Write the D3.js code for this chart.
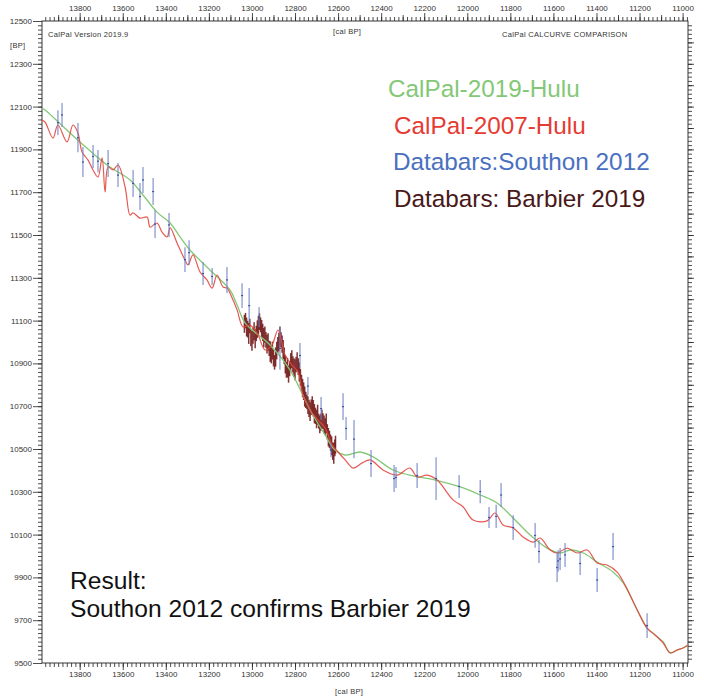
<!DOCTYPE html>
<html><head><meta charset="utf-8">
<script src="https://cdn.jsdelivr.net/npm/d3@7"></script>
<style>body{margin:0;background:#fff}svg{display:block}text{font-family:"Liberation Sans",Arial,sans-serif}</style>
</head><body><svg id="c" width="704" height="699"></svg>
<script>
// ---- data ----
const xTickLabels = [13800,13600,13400,13200,13000,12800,12600,12400,12200,12000,11800,11600,11400,11200,11000];
const yTickLabels = [12500,12300,12100,11900,11700,11500,11300,11100,10900,10700,10500,10300,10100,9900,9700,9500];

const hulu2019Cal = [13975,13961,13799,13673,13566,13506,13441,13380,13334,13288,13185,13102,13069,13032,12916,12823,12730,12660,12614,12567,12498,12437,12345,12252,12173,12094,12019,11940,11862,11787,11708,11629,11569,11522,11462,11397,11323,11276,11211,11165,11128,11090,11058,11025,10998,10974];
const hulu2019BP  = [12093,12084,11935,11827,11757,11687,11607,11556,11491,11430,11327,11243,11173,11089,10986,10869,10682,10565,10495,10472,10486,10463,10402,10374,10360,10341,10318,10285,10248,10178,10098,10037,10014,10028,10014,9972,9925,9874,9748,9663,9631,9598,9547,9561,9570,9584];

const hulu2007Cal = [13975,13961,13924,13901,13859,13831,13808,13789,13761,13738,13715,13696,13682,13668,13645,13622,13589,13566,13552,13520,13487,13473,13441,13418,13394,13380,13348,13311,13297,13274,13241,13209,13185,13162,13134,13116,13092,13069,13041,13009,12972,12939,12907,12879,12846,12814,12786,12763,12730,12693,12660,12628,12600,12567,12530,12488,12451,12391,12326,12266,12233,12187,12140,12066,12019,11973,11908,11871,11834,11787,11741,11694,11662,11615,11583,11536,11490,11443,11397,11351,11304,11267,11211,11165,11128,11090,11058,11025,10998,10974];
const hulu2007BP  = [12037,12028,11953,12014,11935,12014,11977,11888,11850,11804,11771,11860,11701,11818,11804,11827,11724,11593,11603,11579,11584,11537,11556,11514,11491,11533,11463,11383,11360,11407,11327,11290,11252,11313,11257,11252,11206,11150,11070,11079,11033,10963,10986,11056,10939,10892,10860,10752,10682,10635,10598,10519,10486,10449,10411,10435,10449,10402,10378,10411,10369,10378,10355,10262,10229,10168,10164,10201,10145,10131,10089,10065,10084,10028,10014,10037,10014,10028,9967,9958,9925,9864,9748,9663,9631,9593,9547,9561,9570,9584];

const southonCal = [13901,13882,13808,13785,13738,13715,13668,13622,13552,13520,13506,13459,13450,13385,13311,13292,13227,13185,13116,13046,13013,12967,12870,12777,12740,12679,12633,12577,12563,12526,12447,12340,12331,12233,12145,12038,11940,11899,11866,11843,11787,11685,11667,11583,11578,11569,11546,11476,11397,11323,11165];
const southonBP  = [12025,12061,11955,11841,11867,11845,11834,11780,11741,11680,11757,11703,11551,11547,11385,11418,11320,11306,11290,11217,11170,11117,10970,10937,10794,10689,10495,10698,10596,10546,10432,10362,10367,10376,10362,10325,10301,10180,10185,10285,10133,10096,10021,9946,9977,9986,10005,9965,9888,10044,9675];
const southonErr = [58,56,68,70,54,52,63,56,63,63,61,63,65,56,58,58,54,40,61,58,82,47,100,58,42,54,33,63,54,89,63,63,49,58,100,54,54,49,54,56,58,58,54,68,51,51,56,54,56,63,58];

const barbierCal = [13035,13030,13025,13020,13015,13010,13005,13000,12995,12990,12985,12980,12975,12970,12965,12960,12955,12950,12945,12940,12935,12930,12925,12920,12915,12910,12905,12900,12895,12890,12885,12880,12875,12870,12865,12860,12855,12850,12845,12840,12835,12830,12825,12820,12815,12810,12805,12800,12795,12790,12785,12780,12775,12770,12765,12760,12755,12750,12745,12740,12735,12730,12725,12720,12715,12710,12705,12700,12695,12690,12685,12680,12675,12670,12665,12660,12655,12650,12645,12640,12635,12630,12625,12620,12615,12612];
const barbierBP  = [11085,11100,11070,11060,11040,11075,11020,11005,11030,11050,11015,11040,11060,11075,11095,11080,11060,11045,11020,11035,11010,10990,11000,10970,10955,10940,10960,10925,10905,10930,10960,10985,11000,11025,11010,10990,10965,10935,10895,10870,10880,10850,10875,10905,10920,10895,10880,10870,10895,10910,10885,10860,10835,10810,10785,10770,10745,10730,10720,10705,10690,10675,10695,10705,10690,10665,10655,10640,10660,10630,10615,10625,10640,10630,10615,10605,10620,10580,10555,10545,10530,10515,10490,10480,10505,10520];
const barbierErr = [42,36,44,39,49,34,40,46,38,42,44,36,41,47,39,35,43,40,45,38,37,44,41,36,48,40,42,39,34,45,41,38,43,47,36,40,44,39,42,37,46,40,35,43,41,38,44,49,36,42,39,45,40,37,43,41,47,38,34,42,40,44,36,41,39,45,38,43,47,35,41,40,44,37,42,39,46,36,43,40,38,44,41,49,39,42];

const legendLabels = ["CalPal-2019-Hulu","CalPal-2007-Hulu","Databars:Southon 2012","Databars: Barbier 2019"];
const resultLines = ["Result:","Southon 2012 confirms Barbier 2019"];

// ---- layout ----
const L=42, R=688, T=21, B=663;
const svg = d3.select("#c");
const x = d3.scaleLinear().domain([13975,10975]).range([L,R]);
const y = d3.scaleLinear().domain([9500,12500]).range([B,T]);

const cGreen="#84c877", cRed="#e2483f", cBlue="#6d80c4", cBrown="#6e1212";

function styleAxis(g){ g.select(".domain").remove(); g.selectAll("line").attr("stroke","#222").attr("stroke-width",0.8);
  g.selectAll("text").attr("font-size",8).attr("fill","#333").attr("font-family",'"Liberation Sans",Arial,sans-serif'); }
const minorX = d3.range(10980,13980,20), midX = d3.range(11100,13980,200), minorY = d3.range(9520,12500,20), midY = d3.range(9600,12500,100);

svg.append("g").attr("transform",`translate(0,${T})`).call(d3.axisTop(x).tickValues(minorX).tickSize(4).tickFormat("")).call(styleAxis);
svg.append("g").attr("transform",`translate(0,${T})`).call(d3.axisTop(x).tickValues(midX).tickSize(6).tickFormat("")).call(styleAxis);
svg.append("g").attr("transform",`translate(0,${T})`).call(d3.axisTop(x).tickValues(xTickLabels).tickSize(8).tickPadding(2).tickFormat(d3.format("d"))).call(styleAxis);

svg.append("g").attr("transform",`translate(0,${B})`).call(d3.axisBottom(x).tickValues(minorX).tickSize(4).tickFormat("")).call(styleAxis);
svg.append("g").attr("transform",`translate(0,${B})`).call(d3.axisBottom(x).tickValues(xTickLabels).tickSize(7).tickPadding(1).tickFormat(d3.format("d"))).call(styleAxis);

svg.append("g").attr("transform",`translate(${L},0)`).call(d3.axisLeft(y).tickValues(minorY).tickSize(4).tickFormat("")).call(styleAxis);
svg.append("g").attr("transform",`translate(${L},0)`).call(d3.axisLeft(y).tickValues(yTickLabels).tickSize(9).tickPadding(1).tickFormat(d3.format("d"))).call(styleAxis);

svg.append("g").attr("transform",`translate(${R},0)`).call(d3.axisRight(y).tickValues(minorY).tickSize(4).tickFormat("")).call(styleAxis);
svg.append("g").attr("transform",`translate(${R},0)`).call(d3.axisRight(y).tickValues(midY).tickSize(6).tickFormat("")).call(styleAxis);

svg.append("rect").attr("x",L).attr("y",T).attr("width",R-L).attr("height",B-T).attr("fill","none").attr("stroke","#222").attr("stroke-width",0.9);

const small = [["CalPal  Version  2019.9",48,37,"start"],["[cal BP]",333,34,"start"],["CalPal  CALCURVE  COMPARISON",502,37,"start"],["[BP]",10,48,"start"],["[cal BP]",335,694,"start"]];
svg.selectAll("text.small").data(small).join("text").attr("class","small")
  .attr("x",d=>d[1]).attr("y",d=>d[2]).attr("text-anchor",d=>d[3]).attr("font-size",7.5).attr("letter-spacing",0.3).attr("fill","#333").text(d=>d[0]);

// Barbier bars
svg.append("g").selectAll("line").data(barbierCal.map((c,i)=>[c,barbierBP[i],barbierErr[i]])).join("line")
  .attr("x1",d=>x(d[0])).attr("x2",d=>x(d[0])).attr("y1",d=>y(d[1]-d[2])).attr("y2",d=>y(d[1]+d[2]))
  .attr("stroke",cBrown).attr("stroke-width",1.5).attr("opacity",0.85);

// curves
const line = d3.line().x(d=>x(d[0])).y(d=>y(d[1])).curve(d3.curveCatmullRom.alpha(0.5));
svg.append("path").attr("d",line(hulu2019Cal.map((c,i)=>[c,hulu2019BP[i]]))).attr("fill","none").attr("stroke",cGreen).attr("stroke-width",1.3);
svg.append("path").attr("d",line(hulu2007Cal.map((c,i)=>[c,hulu2007BP[i]]))).attr("fill","none").attr("stroke",cRed).attr("stroke-width",1.2).attr("opacity",0.9);

// Southon bars
const sg = svg.append("g").selectAll("g").data(southonCal.map((c,i)=>[c,southonBP[i],southonErr[i]])).join("g");
sg.append("line").attr("x1",d=>x(d[0])).attr("x2",d=>x(d[0])).attr("y1",d=>y(d[1]-d[2])).attr("y2",d=>y(d[1]+d[2]))
  .attr("stroke",cBlue).attr("stroke-width",1.2).attr("opacity",0.85);
sg.append("line").attr("x1",d=>x(d[0])-1).attr("x2",d=>x(d[0])+1).attr("y1",d=>y(d[1])).attr("y2",d=>y(d[1]))
  .attr("stroke","#3c4f99").attr("stroke-width",1.2);

const legColors=[cGreen,"#e53b33","#4a70c0","#4a1818"], legX=[388,394,393,394], legY=[97,134,170,207];
svg.selectAll("text.leg").data(legendLabels).join("text").attr("class","leg")
  .attr("x",(d,i)=>legX[i]).attr("y",(d,i)=>legY[i]).attr("font-size",24.3).attr("fill",(d,i)=>legColors[i]).text(d=>d);

svg.selectAll("text.res").data(resultLines).join("text").attr("class","res")
  .attr("x",70).attr("y",(d,i)=>589+i*28).attr("font-size",24.6).attr("fill","#111").text(d=>d);
</script></body></html>
